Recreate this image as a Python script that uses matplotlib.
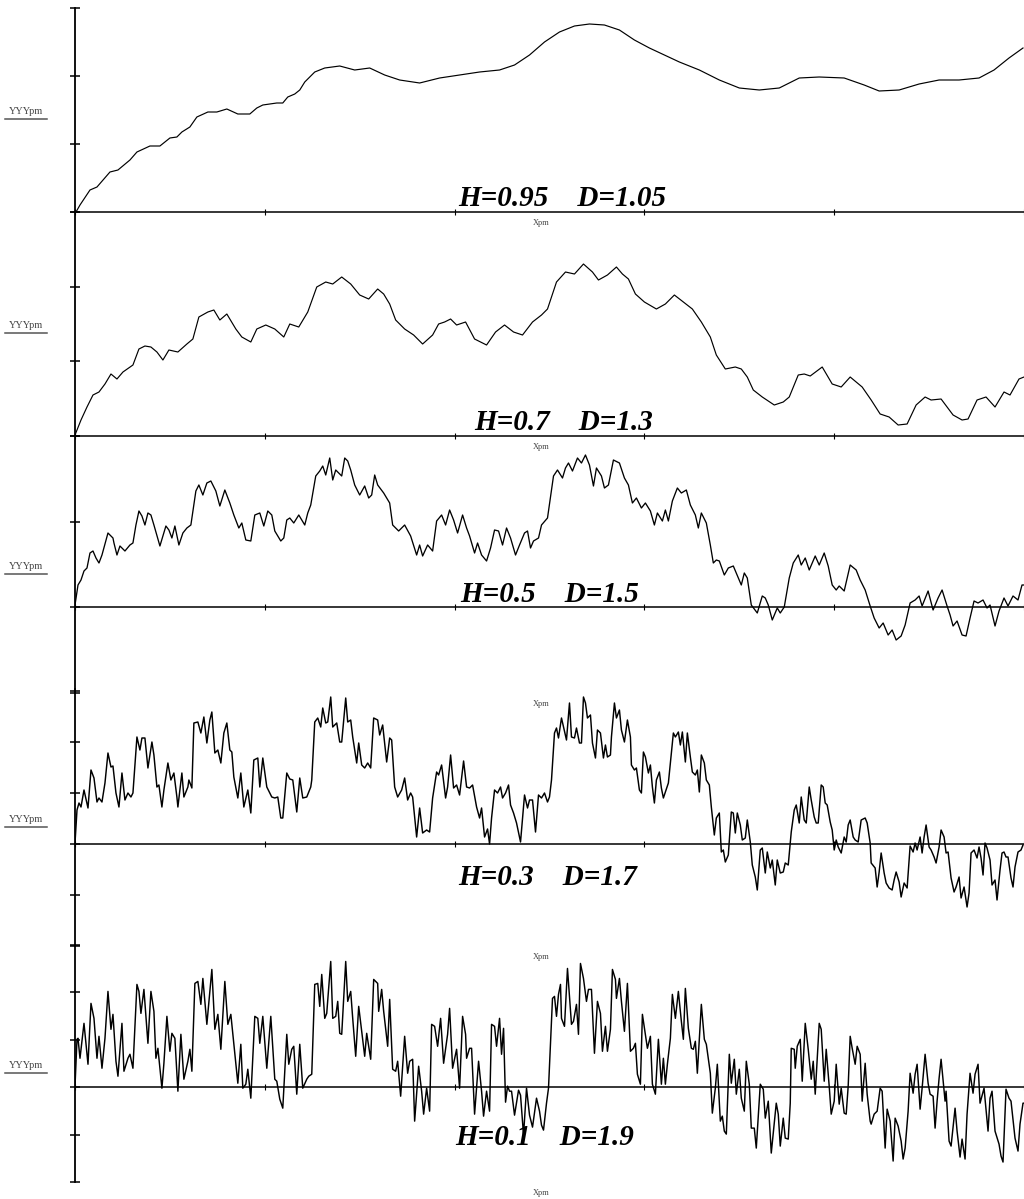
import matplotlib
matplotlib.use("Agg")
import matplotlib.pyplot as plt
from matplotlib.lines import Line2D

plt.rcParams['font.family'] = ['Liberation Serif', 'DejaVu Serif']

# values: x along the trace, y above each zero line (same units as the picture)
p1_x = [0, 1, 5, 15, 22, 35, 43, 55, 62, 75, 85, 95, 102, 107, 115, 122, 133, 142, 152, 163, 175, 182, 188,
        202, 208, 213, 220, 225, 230, 240, 250, 265, 280, 295, 310, 325, 345, 365, 385, 405, 425, 440, 455,
        470, 485, 500, 515, 530, 545, 560, 575, 590, 605, 625, 645, 665, 685, 705, 725, 745, 770, 790, 805,
        825, 845, 865, 885, 905, 920, 935, 949]
p1_y = [0, 0, 7, 22, 25, 40, 42, 52, 60, 66, 66, 74, 75, 80, 85, 95, 100, 100, 103, 98, 98, 104, 107,
        109, 109, 115, 118, 122, 130, 140, 144, 146, 142, 144, 137, 132, 129, 134, 137, 140, 142, 147, 157,
        170, 180, 186, 188, 187, 182, 172, 164, 157, 150, 142, 132, 124, 122, 124, 134, 135, 134, 127, 121,
        122, 128, 132, 132, 134, 142, 154, 164]

p2_x = [0, 6, 12, 18, 24, 30, 36, 42, 48, 58, 64, 70, 76, 82, 88, 94, 103, 112, 118, 124, 133, 139, 145, 152,
        161, 167, 176, 182, 191, 200, 209, 215, 224, 233, 242, 251, 258, 267, 276, 285, 294, 303, 309, 315,
        321, 330, 339, 348, 358, 364, 370, 376, 382, 391, 400, 412, 421, 430, 439, 448, 458, 467, 473, 482,
        491, 500, 509, 518, 524, 533, 542, 548, 554, 561, 570, 582, 591, 600, 609, 618, 627, 636, 642, 651,
        661, 667, 673, 679, 688, 700, 709, 715, 724, 730, 736, 748, 758, 767, 776, 788, 797, 806, 815, 824,
        833, 842, 851, 857, 867, 879, 888, 894, 903, 912, 921, 930, 936, 945, 950]
p2_y = [1, 16, 29, 41, 44, 52, 62, 57, 64, 71, 87, 90, 89, 84, 76, 86, 84, 92, 97, 119, 124, 126, 116, 122,
        107, 99, 94, 107, 111, 107, 99, 112, 109, 124, 149, 154, 152, 159, 152, 141, 137, 147, 142, 132,
        116, 107, 101, 92, 101, 112, 114, 117, 111, 114, 97, 91, 104, 111, 104, 101, 114, 121, 127, 154,
        164, 162, 172, 164, 156, 161, 169, 162, 157, 142, 134, 127, 132, 141, 134, 127, 114, 99, 81, 67,
        69, 67, 59, 46, 39, 31, 34, 39, 61, 62, 60, 69, 52, 49, 59, 49, 36, 22, 19, 11,
        12, 31, 39, 36, 37, 21, 16, 17, 36, 39, 29, 44, 41, 57, 59]

p3_x = [0, 3, 6, 9, 12, 15, 18, 21, 24, 27, 33, 38, 39, 42, 45, 50, 55, 58, 61, 64, 67, 70, 73, 76, 79, 85,
        91, 94, 97, 100, 104, 108, 112, 116, 121, 124, 128, 132, 136, 141, 145, 150, 155, 159, 164, 167,
        171, 176, 180, 185, 189, 193, 197, 200, 206, 209, 212, 215, 219, 224, 230, 233, 236, 241, 245, 248,
        251, 255, 258, 261, 267, 270, 273, 276, 280, 285, 290, 294, 297, 300, 303, 309, 315, 318, 324, 330,
        336, 342, 345, 348, 353, 358, 362, 367, 371, 375, 379, 383, 388, 392, 395, 400, 403, 407, 412, 416,
        420, 424, 428, 432, 436, 441, 445, 450, 453, 456, 459, 464, 467, 473, 479, 483, 488, 491, 494, 498,
        503, 507, 511, 515, 519, 522, 527, 530, 534, 539, 545, 550, 554, 558, 562, 567, 571, 576, 580, 583,
        588, 591, 594, 598, 603, 607, 612, 616, 621, 624, 627, 632, 636, 639, 642, 645, 650, 654, 659, 664,
        667, 670, 673, 677, 683, 688, 691, 694, 698, 703, 706, 710, 715, 719, 724, 727, 731, 735, 741, 745,
        750, 754, 758, 762, 765, 770, 776, 782, 786, 791, 796, 800, 805, 809, 814, 818, 822, 827, 831, 836,
        841, 845, 848, 854, 859, 864, 868, 873, 876, 879, 883, 888, 892, 896, 900, 904, 909, 913, 916, 921,
        925, 930, 934, 939, 944, 948, 950]
p3_y = [2, 22, 27, 36, 39, 54, 56, 49, 44, 52, 74, 69, 64, 52, 61, 56, 62, 64, 82, 96, 91, 82, 94, 92, 82, 61,
        81, 77, 69, 81, 62, 74, 79, 82, 116, 122, 112, 124, 126, 116, 101, 117, 104, 92, 79, 84,
        67, 66, 92, 94, 81, 96, 92, 76, 66, 69, 87, 89, 84, 92, 82, 94, 102, 131, 136, 141,
        132, 149, 127, 137, 131, 149, 146, 137, 122, 112, 121, 109, 112, 132, 122, 114, 104, 82, 76, 82,
        71, 52, 62, 51, 62, 56, 86, 92, 82, 97, 87, 74, 92, 79, 71, 54, 64, 52, 46, 59,
        77, 76, 62, 79, 69, 52, 62, 74, 76, 59, 66, 69, 82, 89, 131, 137, 129, 139, 144, 136,
        149, 144, 152, 142, 121, 139, 131, 119, 122, 147, 144, 129, 122, 104, 109, 99, 104, 96, 82, 94,
        86, 97, 86, 106, 119, 114, 117, 102, 92, 79, 94, 84, 62, 44, 47, 46, 32, 39, 41, 29,
        22, 34, 29, 2, -6, 11, 9, 2, -13, -1, -6, 0, 29, 44, 52, 42, 49, 37, 51, 42,
        54, 41, 22, 17, 21, 16, 42, 37, 27, 17, 1, -11, -21, -16, -28, -23, -33, -29, -18, 4,
        7, 11, 1, 16, -3, 9, 17, 1, -8, -19, -14, -28, -29, -11, 6, 4, 7, -1, 2, -19,
        -4, 9, 1, 11, 7, 22, 22]

p4_x = [0, 2, 4, 6, 9, 13, 16, 19, 22, 24, 27, 30, 33, 36, 38, 41, 44, 47, 50, 53, 56, 58, 62, 65, 67, 70,
        73, 77, 79, 82, 84, 87, 89, 93, 96, 99, 102, 103, 107, 109, 113, 114, 117, 119, 123, 126, 129, 132,
        135, 137, 140, 143, 146, 149, 152, 155, 157, 159, 163, 166, 169, 173, 176, 179, 183, 185, 188, 192,
        197, 200, 203, 206, 208, 212, 215, 218, 222, 225, 228, 232, 236, 237, 240, 243, 246, 248, 251, 253,
        256, 258, 262, 265, 267, 271, 273, 276, 278, 282, 284, 287, 290, 293, 296, 299, 303, 305, 308, 312,
        315, 317, 320, 323, 327, 330, 333, 336, 338, 342, 345, 348, 352, 355, 358, 362, 364, 367, 371, 373,
        376, 379, 382, 385, 389, 392, 395, 398, 402, 405, 407, 410, 413, 415, 417, 420, 423, 426, 428, 431,
        434, 436, 439, 442, 446, 450, 453, 455, 458, 461, 464, 467, 470, 473, 475, 477, 480, 482, 484, 487,
        489, 492, 495, 497, 500, 502, 505, 507, 509, 511, 513, 516, 518, 521, 523, 526, 529, 531, 533, 536,
        537, 540, 542, 545, 547, 550, 553, 556, 557, 560, 562, 565, 567, 569, 571, 574, 576, 578, 580, 582,
        585, 587, 589, 591, 594, 596, 599, 601, 604, 606, 608, 611, 613, 616, 618, 621, 623, 625, 627, 630,
        632, 635, 637, 640, 642, 645, 647, 649, 651, 654, 657, 659, 661, 663, 666, 668, 671, 673, 676, 678,
        681, 683, 686, 688, 691, 693, 696, 698, 701, 703, 706, 709, 711, 714, 717, 720, 722, 725, 727, 730,
        732, 735, 737, 740, 742, 744, 747, 749, 751, 753, 756, 758, 760, 762, 764, 767, 770, 772, 774, 776,
        779, 781, 784, 787, 791, 793, 796, 797, 801, 803, 805, 807, 810, 812, 815, 818, 820, 822, 825, 827,
        830, 833, 836, 839, 841, 843, 846, 848, 850, 852, 855, 857, 860, 862, 865, 867, 870, 872, 874, 877,
        880, 882, 885, 887, 890, 893, 895, 897, 900, 903, 905, 907, 909, 911, 913, 916, 918, 921, 923, 926,
        928, 930, 932, 934, 937, 939, 941, 944, 947, 949]
p4_y = [1, 34, 41, 37, 54, 36, 74, 66, 42, 46, 42, 61, 91, 77, 78, 51, 37, 71, 44, 51, 47, 51, 107, 94, 106, 106,
        76, 102, 89, 57, 59, 37, 54, 81, 64, 71, 47, 37, 71, 47, 57, 64, 56, 121, 122, 111, 127, 101,
        124, 132, 91, 94, 81, 111, 121, 94, 92, 67, 46, 71, 37, 54, 31, 84, 86, 57, 86, 57,
        47, 46, 47, 26, 26, 71, 65, 64, 32, 66, 46, 47, 57, 64, 122, 126, 117, 136, 121, 122,
        147, 117, 121, 102, 102, 146, 122, 124, 107, 81, 101, 79, 76, 81, 76, 126, 124, 109, 119, 82,
        106, 104, 57, 47, 54, 66, 44, 51, 47, 7, 36, 11, 14, 12, 46, 72, 69, 79, 46, 57,
        89, 56, 59, 49, 83, 57, 56, 59, 37, 26, 36, 7, 15, 0, 26, 54, 51, 57, 46, 51,
        59, 39, 31, 21, 2, 49, 36, 44, 44, 12, 49, 46, 51, 42, 47, 64, 111, 116, 106, 126,
        117, 104, 141, 107, 106, 116, 101, 101, 147, 141, 126, 129, 101, 86, 114, 111, 86, 99, 87, 89,
        107, 141, 126, 134, 114, 102, 124, 107, 79, 74, 76, 54, 51, 92, 87, 71, 79, 57, 41, 64,
        72, 56, 46, 52, 61, 81, 111, 107, 112, 99, 112, 82, 111, 87, 72, 69, 74, 52, 89, 81,
        64, 59, 37, 9, 26, 31, -8, -6, -18, -11, 32, 31, 11, 31, 19, 4, 6, 24, 2, -21,
        -33, -46, -6, -4, -29, -8, -24, -16, -41, -16, -29, -28, -19, -21, 12, 34, 39, 21, 47, 24,
        21, 57, 44, 27, 21, 21, 59, 57, 41, 39, 22, 14, -6, 4, -3, -9, 7, 2, 19, 24,
        7, 4, 2, 24, 26, 21, 1, -19, -24, -43, -28, -9, -29, -39, -44, -46, -36, -28, -38, -53,
        -39, -44, -2, -8, 1, -6, 7, -9, 7, 19, -3, -6, -13, -19, -3, 14, 7, -9, -8, -34,
        -48, -43, -33, -54, -43, -63, -49, -9, -6, -14, -3, -14, -31, 1, -4, -16, -41, -36, -56, -26,
        -9, -8, -13, -13, -34, -43, -23, -8, -6, -1]

p5_x = [0, 2, 3, 5, 9, 13, 16, 19, 22, 24, 27, 30, 33, 36, 38, 41, 43, 47, 49, 53, 55, 58, 62, 64, 66, 69,
        73, 76, 79, 81, 83, 87, 89, 92, 95, 97, 100, 103, 106, 109, 113, 115, 117, 120, 123, 126, 128, 132,
        137, 140, 143, 146, 150, 153, 156, 159, 163, 166, 168, 171, 173, 176, 180, 183, 185, 188, 192, 196,
        200, 202, 205, 208, 212, 214, 217, 219, 222, 225, 228, 232, 234, 237, 240, 243, 245, 247, 250, 252,
        256, 258, 261, 263, 265, 267, 271, 273, 276, 278, 281, 284, 287, 290, 292, 296, 299, 303, 304, 307,
        309, 313, 315, 318, 321, 323, 326, 330, 333, 335, 338, 340, 344, 347, 349, 352, 355, 357, 360, 363,
        366, 369, 373, 375, 378, 382, 385, 388, 391, 392, 395, 397, 400, 404, 407, 409, 412, 415, 417, 420,
        422, 425, 427, 429, 431, 433, 435, 437, 440, 444, 446, 449, 452, 455, 458, 462, 465, 467, 469, 472,
        474, 478, 480, 482, 484, 486, 487, 490, 493, 497, 499, 502, 504, 506, 509, 512, 514, 517, 520, 523,
        526, 528, 531, 533, 536, 538, 541, 542, 545, 547, 550, 553, 556, 559, 561, 563, 566, 568, 571, 573,
        576, 578, 581, 584, 587, 589, 591, 593, 596, 598, 601, 604, 607, 609, 611, 614, 617, 619, 621, 623,
        627, 630, 632, 636, 638, 641, 643, 646, 648, 650, 652, 655, 657, 660, 662, 665, 667, 670, 672, 675,
        677, 680, 682, 686, 689, 691, 694, 697, 700, 702, 704, 706, 709, 711, 714, 716, 717, 720, 721, 723,
        726, 728, 731, 734, 737, 739, 741, 745, 747, 750, 752, 755, 757, 760, 762, 765, 767, 770, 772, 774,
        776, 778, 781, 783, 786, 788, 791, 793, 796, 797, 800, 803, 806, 808, 811, 813, 816, 819, 821, 824,
        827, 829, 831, 834, 836, 839, 841, 843, 846, 848, 851, 854, 856, 859, 861, 863, 865, 867, 871, 872,
        875, 877, 881, 883, 886, 888, 891, 893, 896, 899, 901, 904, 906, 910, 914, 916, 918, 921, 925, 927,
        929, 932, 935, 937, 941, 944, 946, 949, 950]
p5_y = [1, 48, 49, 29, 64, 23, 84, 69, 29, 51, 19, 49, 96, 58, 73, 26, 11, 64, 16, 29, 33, 19, 103, 96, 74, 98,
        44, 96, 76, 29, 39, -1, 24, 71, 36, 54, 49, -4, 53, 8, 26, 38, 16, 104, 106, 83, 109, 63,
        118, 58, 73, 38, 106, 63, 73, 43, 4, 43, -1, 3, 18, -11, 71, 69, 44, 71, 19, 71,
        8, 6, -12, -21, 53, 23, 38, 41, -7, 43, -1, 8, 11, 13, 103, 104, 81, 113, 69, 74,
        126, 69, 71, 86, 54, 53, 126, 86, 96, 69, 31, 81, 56, 31, 54, 28, 108, 104, 76, 98,
        76, 41, 88, 18, 16, 26, -9, 51, 14, 26, 28, -34, 21, -4, -27, -1, -24, 63, 61, 41,
        69, 24, 53, 79, 19, 38, -1, 71, 53, 29, 39, 39, -27, 26, -4, -29, -4, -24, 63, 61,
        41, 69, 33, 59, -15, 1, -4, -4, -28, -3, -8, -48, -1, -28, -40, -11, -24, -38, -43, -16,
        -1, 89, 91, 71, 93, 103, 69, 61, 119, 63, 66, 83, 53, 124, 109, 86, 98, 98, 34, 86,
        74, 36, 61, 36, 58, 118, 108, 89, 109, 86, 56, 104, 36, 39, 44, 13, 3, 73, 53, 39,
        51, 3, -7, 48, 3, 29, 3, 23, 49, 93, 69, 96, 66, 48, 99, 59, 39, 38, 46, 14,
        83, 48, 43, 14, -26, -1, 23, -34, -29, -44, -47, 33, 4, 28, -7, 18, -11, -24, 26, 3,
        -41, -41, -61, 3, -2, -31, -14, -66, -36, -16, -27, -59, -31, -51, -52, -16, 39, 38, 19, 41,
        48, 6, 64, 38, 8, 26, -7, 64, 58, 6, 38, 1, -27, -14, 23, -17, -1, -26, -27, 1,
        51, 39, 23, 41, 33, -14, 24, -7, -34, -37, -27, -24, -1, -4, -61, -22, -34, -74, -31, -39,
        -54, -72, -61, -24, 14, -6, 13, 23, -22, -1, 33, 4, -7, -9, -41, -14, 9, 28, -14, -4,
        -54, -59, -21, -44, -70, -52, -72, -27, 14, -6, 13, 23, -16, -1, -44, -11, -4, -44, -57, -69,
        -75, -2, -11, -14, -51, -64, -37, -16, -16]

curves_x = [p1_x, p2_x, p3_x, p4_x, p5_x]
curves_y = [p1_y, p2_y, p3_y, p4_y, p5_y]
labels = ["H=0.95    D=1.05", "H=0.7    D=1.3", "H=0.5    D=1.5", "H=0.3    D=1.7", "H=0.1    D=1.9"]

# layout in picture pixels: top of axis, zero line, bottom of axis, tick step
W, HT = 1024, 1199
tops = [8, 212, 436, 689, 945]
zeros = [212, 436, 607, 844, 1087]
bottoms = [212, 436, 693, 946, 1182]
steps = [68, 74.67, 85.5, 51, 47.5]
label_xy = [(458, 206), (474, 430), (460, 602), (458, 885), (455, 1145)]
lws = [0.85, 0.85, 0.95, 1.05, 1.05]

fig = plt.figure(figsize=(W / 100, HT / 100), dpi=100)

for i in range(5):
    top, zero, bot = tops[i], zeros[i], bottoms[i]
    ax = fig.add_axes([75 / W, 1 - bot / HT, 949 / W, (bot - top) / HT])
    ax.patch.set_alpha(0)
    ax.plot(curves_x[i], curves_y[i], color="black", lw=lws[i])
    ax.set_xlim(0, 950)
    ymax = zero - top
    ymin = zero - bot
    ax.set_ylim(ymin, ymax)
    st = steps[i]
    ticks = []
    k = 0
    while k * st <= ymax + 0.5:
        ticks.append(k * st)
        k += 1
    k = 1
    while -k * st >= ymin - 0.5:
        ticks.append(-k * st)
        k += 1
    ax.set_yticks(ticks)
    ax.set_xticks([0, 190, 380, 570, 760, 950])
    ax.spines["top"].set_visible(False)
    ax.spines["right"].set_visible(False)
    ax.spines["bottom"].set_position(("data", 0))
    ax.spines["bottom"].set_linewidth(1.1)
    ax.spines["left"].set_linewidth(1.3)
    ax.tick_params(axis="y", direction="inout", length=7, width=1.1, labelleft=False)
    ax.tick_params(axis="x", direction="inout", length=4, width=0.8, labelbottom=False)

    lx, ly = label_xy[i]
    fig.text(lx / W, 1 - ly / HT, labels[i], fontsize=21, fontweight="bold", fontstyle="italic",
             ha="left", va="baseline")

    mid = (top + bot) / 2
    fig.text(26 / W, 1 - (mid + 2) / HT, "YYYpm", fontsize=7.5, color="#444444", ha="center", va="center")
    fig.add_artist(Line2D([5 / W, 47 / W], [1 - (mid + 9) / HT] * 2, color="#555555", lw=1.1))
    fig.text(541 / W, 1 - (bot + 11) / HT, "Xpm", fontsize=6, color="#444444", ha="center", va="center")

fig.savefig("out.png", dpi=100)
